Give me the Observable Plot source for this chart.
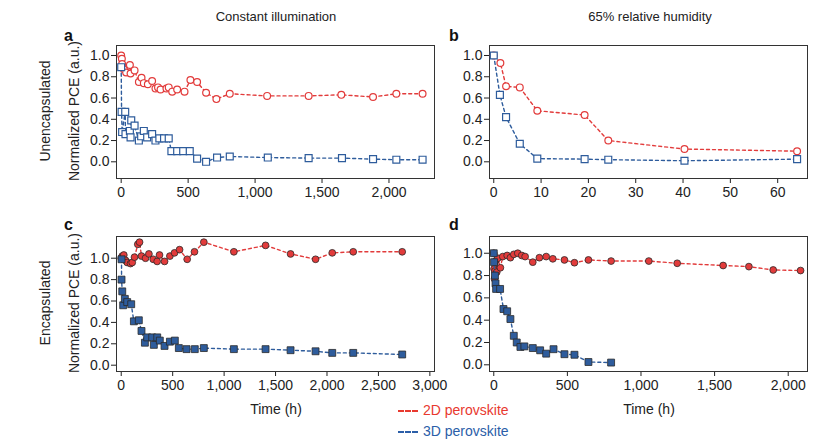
<!DOCTYPE html>
<html><head><meta charset="utf-8">
<script src="https://cdn.jsdelivr.net/npm/d3@7"></script>
<script src="https://cdn.jsdelivr.net/npm/@observablehq/plot@0.6"></script>
<style>
body{margin:0;background:#fff;font-family:"Liberation Sans",Arial,sans-serif;}
#wrap{position:relative;width:839px;height:446px;overflow:hidden;background:#fff;}
.p{position:absolute;}
.t{position:absolute;white-space:nowrap;font-size:14px;color:#222;line-height:1;}
.c{transform:translate(-50%,-50%);}
.rot{transform:translate(-50%,-50%) rotate(-90deg);}
.lt{position:absolute;font-weight:bold;font-size:16px;color:#111;line-height:1;}
.leg{position:absolute;font-size:14px;white-space:nowrap;line-height:1;}
.dash{display:inline-block;width:20px;height:0;border-top:2px dashed;vertical-align:middle;margin-right:5px;}
</style></head>
<body><div id="wrap">
<div class="t c" style="left:276px;top:16px;font-size:13px">Constant illumination</div>
<div class="t c" style="left:650px;top:16px;font-size:13px">65% relative humidity</div>
<div class="lt" style="left:64px;top:28px">a</div>
<div class="lt" style="left:449px;top:28px">b</div>
<div class="lt" style="left:64px;top:217px">c</div>
<div class="lt" style="left:449px;top:217px">d</div>
<div class="t rot" style="left:45px;top:111px">Unencapsulated</div>
<div class="t rot" style="left:74px;top:111px">Normalized PCE (a.u.)</div>
<div class="t rot" style="left:45px;top:303px">Encapsulated</div>
<div class="t rot" style="left:74px;top:303px">Normalized PCE (a.u.)</div>
<div class="t c" style="left:276px;top:409px">Time (h)</div>
<div class="t c" style="left:649px;top:409px">Time (h)</div>
<div class="leg" style="left:398px;top:403px;color:#e8392f"><span class="dash" style="border-color:#e8392f"></span>2D perovskite</div>
<div class="leg" style="left:398px;top:424px;color:#2b5ea8"><span class="dash" style="border-color:#2b5ea8"></span>3D perovskite</div>
</div>
<script>
// Panel a: unencapsulated, constant illumination (time h, normalized PCE)
const aRed = [[0,1.0],[5,0.97],[7,0.92],[20,0.87],[37,0.84],[65,0.91],[70,0.83],[100,0.86],[132,0.75],[152,0.79],[169,0.74],[199,0.73],[231,0.76],[256,0.69],[275,0.70],[294,0.68],[338,0.69],[355,0.70],[381,0.66],[418,0.68],[473,0.66],[517,0.77],[567,0.75],[634,0.65],[711,0.59],[811,0.64],[1090,0.62],[1400,0.62],[1644,0.63],[1881,0.61],[2055,0.64],[2251,0.64]];
const aBlue = [[0,0.89],[3,0.47],[7,0.28],[30,0.47],[32,0.26],[65,0.29],[70,0.23],[75,0.39],[100,0.34],[132,0.20],[149,0.24],[169,0.29],[194,0.23],[231,0.26],[256,0.20],[285,0.22],[320,0.22],[355,0.22],[375,0.10],[418,0.10],[463,0.10],[512,0.10],[567,0.03],[634,0.0],[716,0.04],[811,0.05],[1095,0.04],[1400,0.035],[1649,0.035],[1881,0.025],[2055,0.02],[2251,0.02]];
// Panel b: unencapsulated, 65% RH
const bRed = [[0,1.0],[1.4,0.93],[2.6,0.71],[5.5,0.70],[9.2,0.48],[19.2,0.44],[24.2,0.20],[40.3,0.12],[64.1,0.10]];
const bBlue = [[0,1.0],[1.3,0.63],[2.6,0.42],[5.5,0.17],[9.2,0.03],[19.2,0.025],[24.2,0.02],[40.3,0.01],[64.1,0.025]];
// Panel c: encapsulated, constant illumination
const cRed = [[0,1.0],[10,1.02],[25,1.03],[42,0.98],[58,0.96],[90,0.95],[107,0.96],[129,1.01],[161,1.13],[178,1.15],[197,1.02],[236,1.0],[269,1.04],[311,0.99],[349,0.97],[372,1.03],[421,0.97],[473,1.02],[518,1.05],[567,1.08],[641,0.99],[712,1.06],[803,1.15],[1095,1.06],[1403,1.12],[1646,1.04],[1889,0.99],[2051,1.05],[2255,1.06],[2731,1.06]];
const cBlue = [[3,0.99],[3,0.80],[10,0.69],[19,0.56],[35,0.62],[58,0.59],[97,0.57],[123,0.41],[171,0.42],[197,0.32],[230,0.21],[252,0.26],[301,0.26],[317,0.19],[350,0.26],[375,0.23],[421,0.18],[473,0.22],[521,0.23],[560,0.16],[635,0.15],[715,0.15],[803,0.16],[1095,0.15],[1403,0.15],[1646,0.14],[1889,0.13],[2051,0.115],[2255,0.115],[2731,0.10]];
// Panel d: encapsulated, 65% RH
const dRed = [[0,1.0],[2,0.86],[5,0.77],[8,0.84],[12,0.93],[20,0.83],[27,0.955],[45,0.87],[61,0.97],[91,0.98],[113,0.96],[136,0.99],[163,1.0],[190,0.98],[213,0.97],[265,0.92],[310,0.96],[356,0.97],[401,0.95],[480,0.94],[548,0.915],[643,0.94],[797,0.93],[1053,0.93],[1246,0.91],[1558,0.89],[1733,0.88],[1898,0.85],[2084,0.845]];
const dBlue = [[0,1.0],[2,0.92],[8,0.80],[12,0.73],[16,0.68],[43,0.68],[66,0.50],[91,0.48],[113,0.41],[136,0.26],[156,0.20],[181,0.16],[208,0.165],[265,0.15],[315,0.13],[356,0.10],[406,0.14],[480,0.095],[548,0.09],[643,0.025],[797,0.02]];

const yTicks = [0,0.2,0.4,0.6,0.8,1.0];
const xTicksA = [0,500,1000,1500,2000];
const xTicksB = [0,10,20,30,40,50,60];
const xTicksC = [0,500,1000,1500,2000,2500,3000];
const xTicksD = [0,500,1000,1500,2000];

const RED = "#e23b3b", BLUE = "#2e5c9c";

function panel(cfg) {
  const mL = 40, mR = 10, mT = 5, mB = 30;
  const innerW = cfg.frame[1] - cfg.frame[0];
  const innerH = cfg.frameY[1] - cfg.frameY[0];
  const fmt = d3.format(",");
  const line = (data, color) => Plot.line(data, {x: d => d[0], y: d => d[1], stroke: color, strokeWidth: 1.4, strokeDasharray: "3,3"});
  const dots = (data, color, sym, filled) => Plot.dot(data, {
    x: d => d[0], y: d => d[1], symbol: sym, r: sym === "square" ? 3.9 : 3.4,
    fill: filled ? color : "white", stroke: filled ? "#2a2a2a" : color,
    strokeWidth: filled ? 0.8 : 1.2
  });
  const chart = Plot.plot({
    width: innerW + mL + mR, height: innerH + mT + mB,
    marginLeft: mL, marginRight: mR, marginTop: mT, marginBottom: mB,
    style: {fontSize: "14px", fontFamily: '"Liberation Sans", Arial, sans-serif', color: "#222", background: "transparent", overflow: "visible"},
    x: {domain: cfg.xDomain, ticks: cfg.xTicks, tickFormat: fmt, tickSize: 5, tickPadding: 4, label: null},
    y: {domain: cfg.yDomain, ticks: yTicks, tickFormat: d => d.toFixed(1), tickSize: 5, tickPadding: 2, label: null},
    marks: [
      Plot.frame({stroke: "#333", strokeWidth: 1}),
      line(cfg.red, RED),
      dots(cfg.red, RED, "circle", cfg.filled),
      line(cfg.blue, BLUE),
      dots(cfg.blue, BLUE, "square", cfg.filled)
    ]
  });
  chart.classList.add("p");
  chart.style.left = (cfg.frame[0] - mL) + "px";
  chart.style.top = (cfg.frameY[0] - mT) + "px";
  document.getElementById("wrap").appendChild(chart);
}

panel({red: aRed, blue: aBlue, frame: [116, 434], frameY: [45, 178], xDomain: [-35, 2340], yDomain: [-0.157, 1.094], xTicks: xTicksA, filled: false});
panel({red: bRed, blue: bBlue, frame: [489, 807], frameY: [45, 178], xDomain: [-0.9, 66.3], yDomain: [-0.157, 1.094], xTicks: xTicksB, filled: false});
panel({red: cRed, blue: cBlue, frame: [116, 434], frameY: [236, 371], xDomain: [-46, 3045], yDomain: [-0.059, 1.203], xTicks: xTicksC, filled: true});
panel({red: dRed, blue: dBlue, frame: [489, 807], frameY: [236, 371], xDomain: [-29, 2131], yDomain: [-0.06, 1.15], xTicks: xTicksD, filled: true});
</script>
</body></html>
